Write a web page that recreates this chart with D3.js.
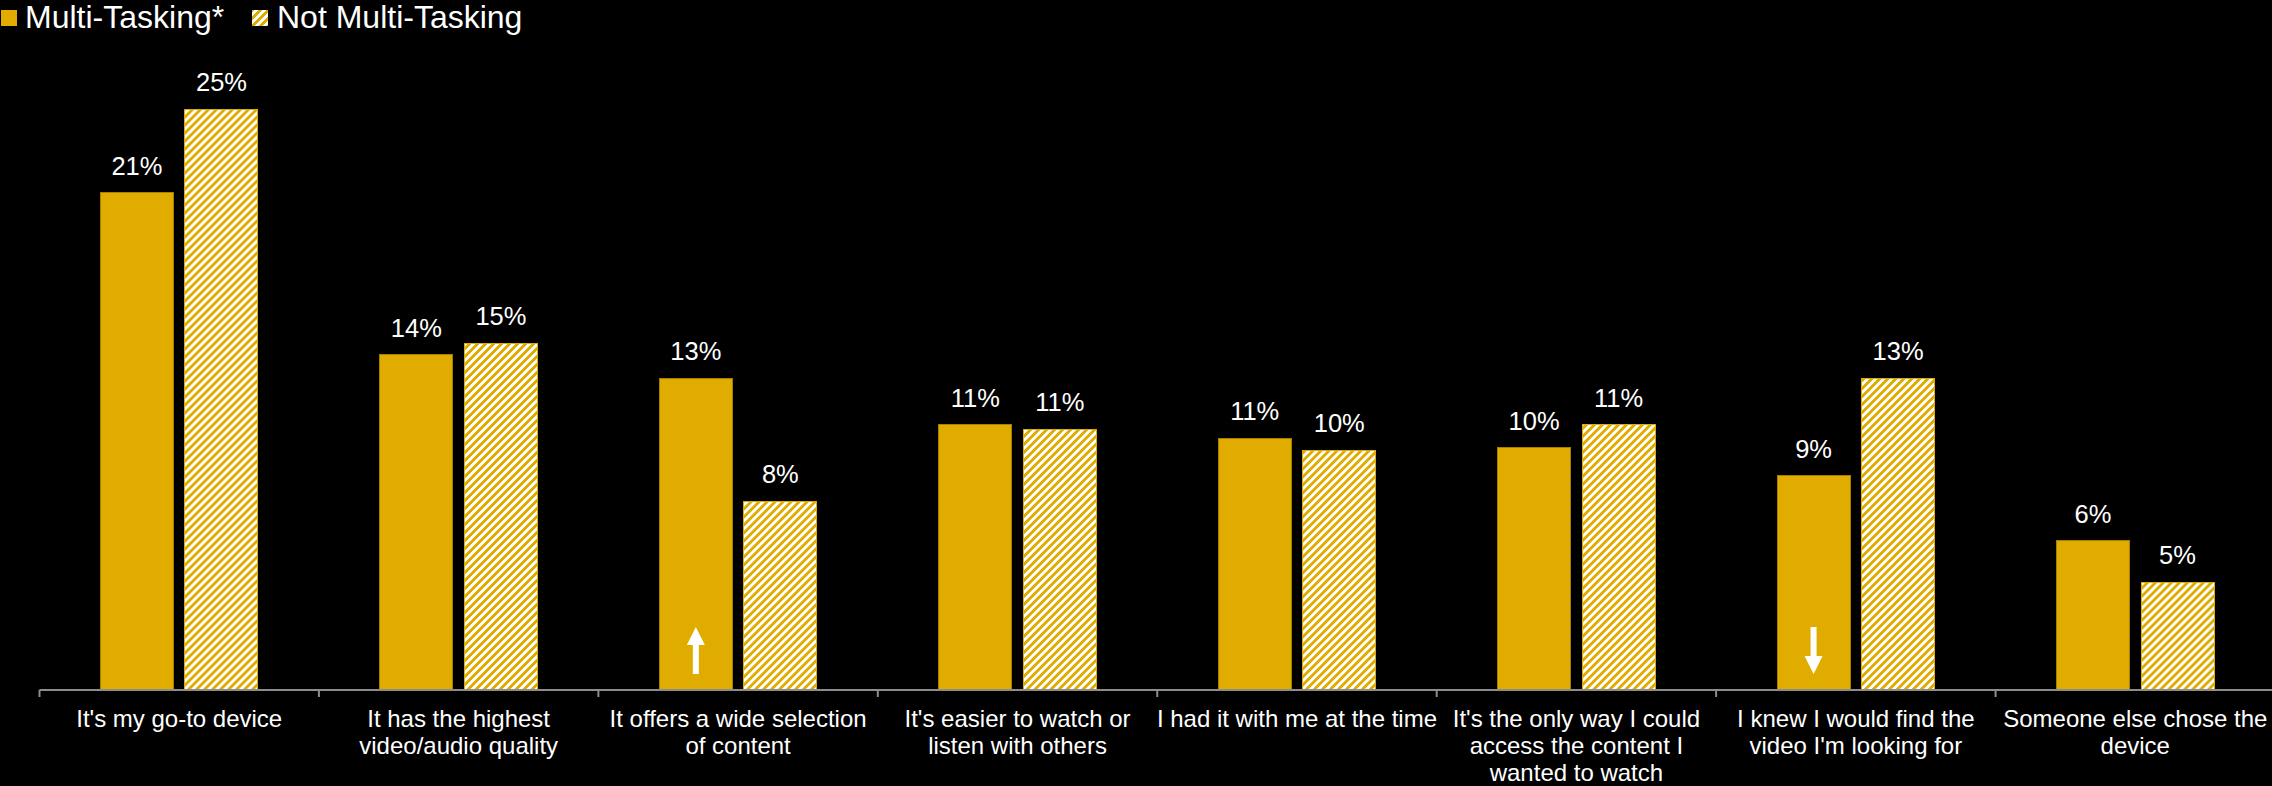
<!DOCTYPE html>
<html>
<head>
<meta charset="utf-8">
<script src="https://cdn.jsdelivr.net/npm/d3@7"></script>
<style>
  html, body { margin: 0; padding: 0; background: #000; }
  svg { display: block; }
  text { font-family: "Liberation Sans", Arial, sans-serif; fill: #ffffff; }
</style>
</head>
<body>
<svg id="chart" width="2272" height="786"></svg>
<script>
// ---------- data ----------
const categories = [
  "It's my go-to device",
  "It has the highest\nvideo/audio quality",
  "It offers a wide selection\nof content",
  "It's easier to watch or\nlisten with others",
  "I had it with me at the time",
  "It's the only way I could\naccess the content I\nwanted to watch",
  "I knew I would find the\nvideo I'm looking for",
  "Someone else chose the\ndevice"
];
const seriesNames = ["Multi-Tasking*", "Not Multi-Tasking"];
const multiTasking    = [21.4, 14.4, 13.4, 11.4, 10.8, 10.4, 9.2, 6.4];
const notMultiTasking = [25.0, 14.9, 8.1, 11.2, 10.3, 11.4, 13.4, 4.6];
// significance arrows drawn inside the Multi-Tasking bars
const arrows = [
  { category: "It offers a wide selection\nof content", series: "Multi-Tasking*", dir: "up" },
  { category: "I knew I would find the\nvideo I'm looking for", series: "Multi-Tasking*", dir: "down" }
];

// ---------- setup ----------
const gold = "#e1ac00";
const svg = d3.select("#chart");
const W = 2272, H = 786;
svg.append("rect").attr("width", W).attr("height", H).attr("fill", "#000");

// hatch pattern (wide upward diagonal, 8x8 tile)
const defs = svg.append("defs");
const pat = defs.append("pattern")
  .attr("id", "hatch").attr("patternUnits", "userSpaceOnUse")
  .attr("width", 8).attr("height", 8);
pat.append("rect").attr("width", 8).attr("height", 8).attr("fill", gold);
const cells = [];
for (let yy = 0; yy < 8; yy++) for (let xx = 0; xx < 8; xx++) if ((xx + yy) % 8 < 4) cells.push([xx, yy]);
pat.selectAll("rect.c").data(cells).join("rect").attr("class", "c")
  .attr("x", d => d[0]).attr("y", d => d[1]).attr("width", 1).attr("height", 1)
  .attr("fill", "#ffffff").attr("shape-rendering", "crispEdges");

const fills = ["" + gold, "url(#hatch)"];

const data = categories.map((c, i) => ({ category: c, values: [multiTasking[i], notMultiTasking[i]] }));

const x0 = d3.scaleBand().domain(categories).range([39.5, 2275]).paddingInner(0).paddingOuter(0);
const x1 = d3.scaleBand().domain(seriesNames).range([0, x0.bandwidth()])
  .paddingInner(0.136).paddingOuter(0.721);
const y = d3.scaleLinear().domain([0, 25]).range([689, 109]);

// bars
const groups = svg.append("g").selectAll("g").data(data).join("g")
  .attr("transform", d => `translate(${x0(d.category)},0)`);

groups.selectAll("rect").data(d => d.values.map((v, j) => ({ s: seriesNames[j], v, j })))
  .join("rect")
  .attr("x", d => x1(d.s))
  .attr("y", d => y(d.v))
  .attr("width", x1.bandwidth())
  .attr("height", d => y(0) - y(d.v))
  .attr("fill", d => fills[d.j])
  .attr("stroke", d => d.j === 0 ? "#a67f00" : gold)
  .attr("stroke-width", 1)
  .attr("shape-rendering", "crispEdges");

// value labels
groups.selectAll("text.val").data(d => d.values.map((v, j) => ({ s: seriesNames[j], v, j })))
  .join("text").attr("class", "val")
  .attr("x", d => x1(d.s) + x1.bandwidth() / 2)
  .attr("y", d => y(d.v) - 18)
  .attr("text-anchor", "middle")
  .attr("font-size", 25.5)
  .text(d => d3.format(".0f")(d.v) + "%");

// axis
const axisG = svg.append("g");
axisG.append("line")
  .attr("x1", x0.range()[0]).attr("x2", x0.range()[1])
  .attr("y1", y(0) + 1).attr("y2", y(0) + 1)
  .attr("stroke", "#8c8c8c").attr("stroke-width", 2);
const tickXs = categories.map(c => x0(c)).concat([x0.range()[1]]);
axisG.selectAll("line.tick").data(tickXs).join("line").attr("class", "tick")
  .attr("x1", d => d).attr("x2", d => d)
  .attr("y1", y(0) + 1).attr("y2", y(0) + 8)
  .attr("stroke", "#8c8c8c").attr("stroke-width", 2);

// category labels
const labelG = svg.append("g").selectAll("text").data(categories).join("text")
  .attr("x", d => x0(d) + x0.bandwidth() / 2)
  .attr("y", 727)
  .attr("text-anchor", "middle")
  .attr("font-size", 24);
labelG.selectAll("tspan").data(d => d.split("\n")).join("tspan")
  .attr("x", function () { return d3.select(this.parentNode).attr("x"); })
  .attr("dy", (d, i) => i === 0 ? 0 : 27)
  .text(d => d);

// arrows
const arrowG = svg.append("g");
arrows.forEach(a => {
  const cx = x0(a.category) + x1(a.series) + x1.bandwidth() / 2;
  const top = y(0) - 62, bot = y(0) - 15;
  let pts;
  if (a.dir === "up") {
    pts = [[cx, top], [cx + 9, top + 18], [cx + 3, top + 18], [cx + 3, bot], [cx - 3, bot], [cx - 3, top + 18], [cx - 9, top + 18]];
  } else {
    pts = [[cx, bot], [cx + 9, bot - 18], [cx + 3, bot - 18], [cx + 3, top], [cx - 3, top], [cx - 3, bot - 18], [cx - 9, bot - 18]];
  }
  arrowG.append("polygon").attr("points", pts.map(p => p.join(",")).join(" ")).attr("fill", "#ffffff");
});

// legend
const legend = svg.append("g");
const legendItems = [
  { name: seriesNames[0], fill: fills[0], sx: 1, tx: 25 },
  { name: seriesNames[1], fill: fills[1], sx: 252, tx: 277 }
];
legendItems.forEach(l => {
  legend.append("rect").attr("x", l.sx).attr("y", 10).attr("width", 16).attr("height", 16)
    .attr("fill", l.fill).attr("shape-rendering", "crispEdges");
  legend.append("text").attr("x", l.tx).attr("y", 28).attr("font-size", 32).text(l.name);
});
</script>
</body>
</html>
